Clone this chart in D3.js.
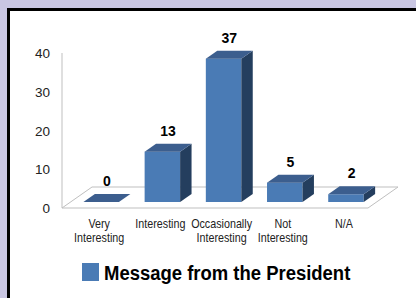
<!DOCTYPE html>
<html>
<head>
<meta charset="utf-8">
<script src="https://cdn.jsdelivr.net/npm/d3@7"></script>
<style>
  html, body { margin: 0; padding: 0; background: #c9c6e2; }
  svg { display: block; }
</style>
</head>
<body>
<div id="main-chart"></div>
<script>
const categories = [
  ["Very", "Interesting"],
  ["Interesting"],
  ["Occasionally", "Interesting"],
  ["Not", "Interesting"],
  ["N/A"],
];
const values = [0, 13, 37, 5, 2];
const yTicks = [0, 10, 20, 30, 40];
const seriesName = "Message from the President";

const width = 416;
const height = 298;

// floor / 3d settings
const floorDepth = 21;
const slope = 30 / 21; // dx per dy of depth
const barFrontDepth = 6;
const barDepth = 8;

// no narrow font installed, so squeeze regular text sideways
const narrow = 0.86;

const colors = {
  front: "#4a7bb5",
  top: "#3c5e8e",
  side: "#243e5e",
  grid: "#bfbfbf",
};

const keys = categories.map((d) => d.join(" "));

const x = d3
  .scaleBand()
  .domain(keys)
  .range([62, 368])
  .paddingInner(0.42)
  .paddingOuter(0.21);

const y = d3.scaleLinear().domain([0, 40]).range([208, 53]);

const svg = d3
  .select("#main-chart")
  .append("svg")
  .attr("width", width)
  .attr("height", height);

// white panel with black top/left border
svg
  .append("rect")
  .attr("x", 7)
  .attr("y", 8)
  .attr("width", width)
  .attr("height", height)
  .attr("fill", "#000");
svg
  .append("rect")
  .attr("x", 10)
  .attr("y", 11)
  .attr("width", width)
  .attr("height", height)
  .attr("fill", "#fff");

// floor
const fx0 = x.range()[0];
const fx1 = x.range()[1];
const fy = y(0);
const fdx = floorDepth * slope;
svg
  .append("path")
  .attr(
    "d",
    `M${fx0},${fy}L${fx1},${fy}L${fx1 + fdx},${fy - floorDepth}L${fx0 + fdx},${fy - floorDepth}Z`
  )
  .attr("fill", "none")
  .attr("stroke", colors.grid)
  .attr("stroke-width", 1);

// value axis line
svg
  .append("line")
  .attr("x1", fx0)
  .attr("x2", fx0)
  .attr("y1", y(40))
  .attr("y2", y(0))
  .attr("stroke", colors.grid);

svg
  .append("g")
  .selectAll("text")
  .data(yTicks)
  .join("text")
  .attr("x", 50)
  .attr("y", (d) => y(d) + 5)
  .attr("text-anchor", "end")
  .attr("font-family", "Liberation Sans, Arial, sans-serif")
  .attr("font-size", 13.5)
  .attr("fill", "#222")
  .text((d) => d);

// bars
const bx = barFrontDepth * slope;
const ddx = barDepth * slope;
const data = keys.map((k, i) => ({ key: k, value: values[i] }));

const bars = svg.append("g").selectAll("g").data(data).join("g");

bars.each(function (d) {
  const g = d3.select(this);
  const x0 = x(d.key) + bx;
  const x1 = x0 + x.bandwidth();
  const yb = y(0) - barFrontDepth;
  const yt = y(d.value) - barFrontDepth;
  if (d.value > 0) {
    g.append("rect")
      .attr("x", x0)
      .attr("y", yt)
      .attr("width", x1 - x0)
      .attr("height", yb - yt)
      .attr("fill", colors.front);
    g.append("path")
      .attr(
        "d",
        `M${x1},${yt}L${x1 + ddx},${yt - barDepth}L${x1 + ddx},${yb - barDepth}L${x1},${yb}Z`
      )
      .attr("fill", colors.side);
  }
  g.append("path")
    .attr(
      "d",
      `M${x0},${yt}L${x1},${yt}L${x1 + ddx},${yt - barDepth}L${x0 + ddx},${yt - barDepth}Z`
    )
    .attr("fill", colors.top);
  g.append("text")
    .attr("x", (x0 + x1) / 2 + ddx / 2)
    .attr("y", yt - barDepth - 8)
    .attr("text-anchor", "middle")
    .attr("font-family", "Liberation Sans, Arial, sans-serif")
    .attr("font-weight", "bold")
    .attr("font-size", 14)
    .attr("fill", "#000")
    .text(d.value);
});

// category labels, one text per line
const catGroups = svg
  .append("g")
  .selectAll("g")
  .data(categories)
  .join("g")
  .attr("transform", (d, i) => `translate(${x(keys[i]) + bx + x.bandwidth() / 2 - 2}, 0)`);

catGroups
  .selectAll("text")
  .data((d) => d)
  .join("text")
  .attr("transform", (t, j) => `translate(0, ${228 + j * 14}) scale(${narrow}, 1)`)
  .attr("text-anchor", "middle")
  .attr("font-family", "Liberation Sans, Arial, sans-serif")
  .attr("font-size", 12.5)
  .attr("fill", "#222")
  .text((t) => t);

// legend
const legend = svg.append("g").attr("transform", "translate(82, 263)");
legend
  .append("rect")
  .attr("width", 17)
  .attr("height", 18)
  .attr("fill", colors.front);
legend
  .append("text")
  .attr("transform", "translate(22, 17) scale(0.88, 1)")
  .attr("font-family", "Liberation Sans, Arial, sans-serif")
  .attr("font-weight", "bold")
  .attr("font-size", 21)
  .attr("fill", "#000")
  .text(seriesName);
</script>
</body>
</html>
